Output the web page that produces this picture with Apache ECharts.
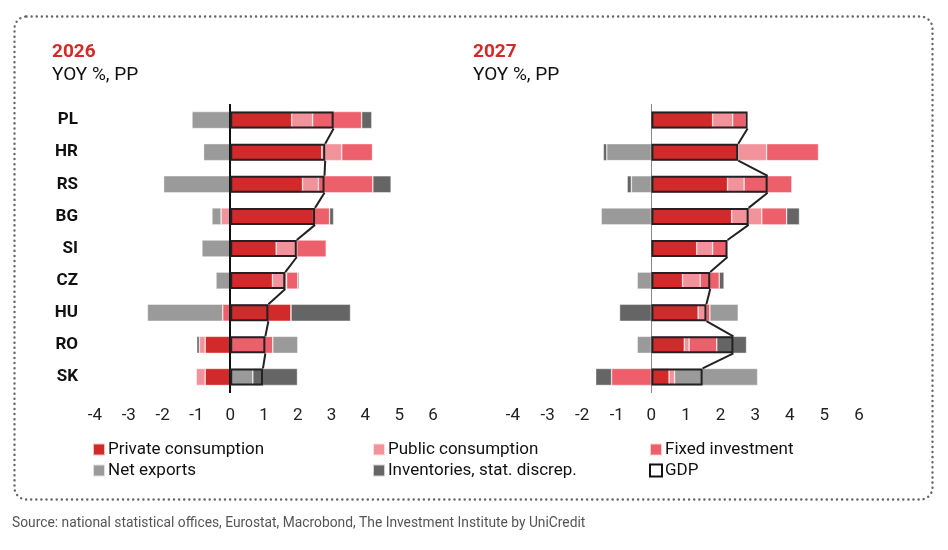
<!DOCTYPE html>
<html>
<head>
<meta charset="utf-8">
<script src="https://cdn.jsdelivr.net/npm/echarts@6/dist/echarts.min.js"></script>
<style>
html,body{margin:0;padding:0;background:#fff;}
#chart{width:948px;height:550px;}
</style>
</head>
<body>
<div id="chart"></div>
<script>
// ---- data ----
const categories = ['PL','HR','RS','BG','SI','CZ','HU','RO','SK'];
const xTicks = [-4,-3,-2,-1,0,1,2,3,4,5,6];

// 2026
const private26 = [1.82, 2.71, 2.14, 2.47, 1.36, 1.25, 1.80, -0.74, -0.74];
const public26  = [0.62, 0.59, 0.47, -0.27, 0.61, 0.42, 0, -0.17, -0.27];
const fixed26   = [1.45, 0.91, 1.61, 0.47, 0.87, 0.33, -0.22, 1.26, 0];
const net26     = [-1.13, -0.79, -1.97, -0.27, -0.84, -0.42, -2.23, 0.74, 0.67];
const inv26     = [0.30, 0, 0.54, 0.12, 0, 0.04, 1.76, -0.08, 1.32];
const gdp26     = [3.06, 2.81, 2.79, 2.51, 1.97, 1.63, 1.13, 1.04, 0.97];

// 2027
const private27 = [1.77, 2.51, 2.20, 2.32, 1.31, 0.90, 1.35, 0.95, 0.51];
const public27  = [0.58, 0.82, 0.48, 0.87, 0.46, 0.51, 0.22, 0.14, 0.16];
const fixed27   = [0.39, 1.50, 1.38, 0.72, 0.43, 0.55, 0.12, 0.80, -1.15];
const net27     = [0, -1.29, -0.58, -1.45, 0, -0.41, 0.82, -0.41, 2.40];
const inv27     = [0, -0.10, -0.12, 0.37, 0, 0.14, -0.92, 0.86, -0.46];
const gdp27     = [2.78, 2.51, 3.36, 2.81, 2.20, 1.70, 1.59, 2.37, 1.48];

const names = ['Private consumption','Public consumption','Fixed investment','Net exports','Inventories, stat. discrep.','GDP'];
const colors = ['#d12a2a','#f2939b','#ec5f6b','#9a9a9a','#656565'];

// ---- chart ----
const FONT = 'Roboto, "Noto Sans", sans-serif';
const BAR = 17;
const chart = echarts.init(document.getElementById('chart'), null, {renderer:'canvas'});

function stackSeries(idx, datasets, gdp, zeroColor, zeroWidth){
  const out = [];
  datasets.forEach((d, k) => {
    const s = {
      name: names[k], type:'bar', stack:'s'+idx, xAxisIndex: idx, yAxisIndex: idx,
      data: d, barWidth: BAR,
      itemStyle:{color: colors[k], borderColor:'rgba(255,255,255,0.7)', borderWidth:0.6},
      emphasis:{disabled:true}, animation:false
    };
    if (k === 0) {
      s.markLine = {
        silent:true, symbol:'none', animation:false,
        label:{show:false},
        lineStyle:{color:zeroColor, width:zeroWidth, type:'solid'},
        data:[{xAxis:0}]
      };
    }
    out.push(s);
  });
  out.push({
    name:'GDP', type:'bar', xAxisIndex: idx, yAxisIndex: idx, data: gdp,
    barWidth: BAR, barGap:'-100%', z: 5,
    itemStyle:{color:'rgba(0,0,0,0)', borderColor:'#222', borderWidth:2},
    emphasis:{disabled:true}, animation:false
  });
  out.push({
    type:'custom', xAxisIndex: idx, yAxisIndex: idx, z: 6, silent:true, animation:false,
    data: gdp.slice(0, -1).map((v, i) => [v, i, gdp[i+1]]),
    encode:{x:0, y:1},
    renderItem: function(params, api){
      const p1 = api.coord([api.value(0), api.value(1)]);
      const p2 = api.coord([api.value(2), api.value(1) + 1]);
      const h = BAR/2;
      return {type:'line', shape:{x1:p1[0], y1:p1[1]+h, x2:p2[0], y2:p2[1]-h},
              style:{stroke:'#222', lineWidth:2}};
    }
  });
  return out;
}

function xAxis(idx){
  return {
    type:'value', gridIndex: idx, min:-4, max:6, interval:1,
    splitLine:{show:false}, axisLine:{show:false}, axisTick:{show:false},
    axisLabel:{color:'#222', fontSize:17, fontFamily:FONT, margin:14,
      formatter: v => xTicks.includes(v) ? String(v) : ''}
  };
}
function yAxis(idx, showLabels){
  return {
    type:'category', gridIndex: idx, data: categories, inverse:true,
    axisLine:{show:false}, axisTick:{show:false}, splitLine:{show:false},
    axisLabel:{show:showLabels, color:'#111', fontSize:17, fontWeight:'bold', fontFamily:FONT, margin:17}
  };
}

function legendCol(left, items){
  return {
    left: left, top: 441, orient:'vertical', itemWidth:12, itemHeight:12, itemGap:4,
    padding:0, selectedMode:false,
    textStyle:{fontSize:17, lineHeight:16, color:'#111', fontFamily:FONT, padding:[0,0,0,-2]},
    data: items
  };
}

const option = {
  animation:false,
  backgroundColor:'#fff',
  grid:[
    {left:95, top:104, width:338, height:289},
    {left:513, top:104, width:346, height:289}
  ],
  xAxis:[xAxis(0), xAxis(1)],
  yAxis:[yAxis(0, true), yAxis(1, false)],
  legend:[
    legendCol(92, [{name:names[0], icon:'rect'},{name:names[3], icon:'rect'}]),
    legendCol(372, [{name:names[1], icon:'rect'},{name:names[4], icon:'rect'}]),
    legendCol(649, [{name:names[2], icon:'rect'},
      {name:'GDP', icon:'rect', itemStyle:{color:'#fff', borderColor:'#111', borderWidth:2}}])
  ],
  series: [
    ...stackSeries(0, [private26, public26, fixed26, net26, inv26], gdp26, '#111', 2),
    ...stackSeries(1, [private27, public27, fixed27, net27, inv27], gdp27, '#888', 1)
  ],
  graphic:[
    {type:'rect', left:12, top:14, silent:true, z:-1,
      shape:{width:918, height:483, r:12},
      style:{fill:'none', stroke:'#666', lineWidth:2.4, lineDash:[0.1,5], lineCap:'round'}},
    {type:'text', left:52, top:43, style:{text:'2026', fill:'#d42a2a', font:'bold 19px '+FONT}},
    {type:'text', left:52, top:66, style:{text:'YOY %, PP', fill:'#111', font:'19px '+FONT}},
    {type:'text', left:473, top:43, style:{text:'2027', fill:'#d42a2a', font:'bold 19px '+FONT}},
    {type:'text', left:473, top:66, style:{text:'YOY %, PP', fill:'#111', font:'19px '+FONT}},
    {type:'text', left:12, top:517, style:{text:'Source: national statistical offices, Eurostat, Macrobond, The Investment Institute by UniCredit', fill:'#555', font:'13.8px '+FONT}}
  ]
};
chart.setOption(option);
</script>
</body>
</html>
